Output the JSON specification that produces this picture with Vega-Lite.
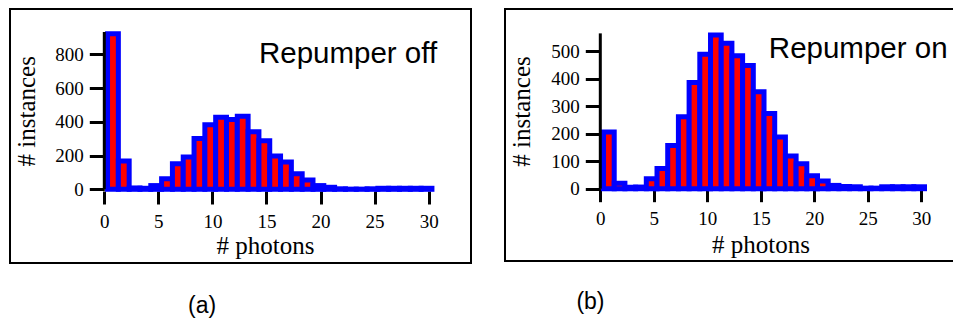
{
  "$schema": "https://vega.github.io/schema/vega-lite/v6.json",
  "padding": {"left": 9, "top": 8, "right": 0, "bottom": 0},
  "spacing": 32,
  "background": "white",
  "config": {
    "view": {"stroke": "black", "strokeWidth": 2},
    "axis": {
      "grid": false,
      "domain": false,
      "labelFont": "Liberation Serif",
      "labelFontSize": 19,
      "labelColor": "black",
      "titleFont": "Liberation Serif",
      "titleFontSize": 25,
      "titleFontWeight": "normal",
      "titleColor": "black",
      "tickColor": "black",
      "tickWidth": 3
    }
  },
  "datasets": {
    "off": [
      {"bin_start": 0.3, "bin_end": 1.3, "count": 922},
      {"bin_start": 1.3, "bin_end": 2.3, "count": 168},
      {"bin_start": 2.3, "bin_end": 3.3, "count": 8},
      {"bin_start": 3.3, "bin_end": 4.3, "count": 6},
      {"bin_start": 4.3, "bin_end": 5.3, "count": 22},
      {"bin_start": 5.3, "bin_end": 6.3, "count": 63},
      {"bin_start": 6.3, "bin_end": 7.3, "count": 152},
      {"bin_start": 7.3, "bin_end": 8.3, "count": 192},
      {"bin_start": 8.3, "bin_end": 9.3, "count": 301},
      {"bin_start": 9.3, "bin_end": 10.3, "count": 383},
      {"bin_start": 10.3, "bin_end": 11.3, "count": 427},
      {"bin_start": 11.3, "bin_end": 12.3, "count": 413},
      {"bin_start": 12.3, "bin_end": 13.3, "count": 433},
      {"bin_start": 13.3, "bin_end": 14.3, "count": 341},
      {"bin_start": 14.3, "bin_end": 15.3, "count": 288},
      {"bin_start": 15.3, "bin_end": 16.3, "count": 198},
      {"bin_start": 16.3, "bin_end": 17.3, "count": 162},
      {"bin_start": 17.3, "bin_end": 18.3, "count": 92},
      {"bin_start": 18.3, "bin_end": 19.3, "count": 55},
      {"bin_start": 19.3, "bin_end": 20.3, "count": 22},
      {"bin_start": 20.3, "bin_end": 21.3, "count": 12},
      {"bin_start": 21.3, "bin_end": 22.3, "count": 3},
      {"bin_start": 22.3, "bin_end": 23.3, "count": 1},
      {"bin_start": 23.3, "bin_end": 24.3, "count": 1},
      {"bin_start": 24.3, "bin_end": 25.3, "count": 3},
      {"bin_start": 25.3, "bin_end": 26.3, "count": 6},
      {"bin_start": 26.3, "bin_end": 27.3, "count": 6},
      {"bin_start": 27.3, "bin_end": 28.3, "count": 6},
      {"bin_start": 28.3, "bin_end": 29.3, "count": 6},
      {"bin_start": 29.3, "bin_end": 30.3, "count": 6}
    ],
    "on": [
      {"bin_start": 0.3, "bin_end": 1.3, "count": 206},
      {"bin_start": 1.3, "bin_end": 2.3, "count": 20},
      {"bin_start": 2.3, "bin_end": 3.3, "count": 5},
      {"bin_start": 3.3, "bin_end": 4.3, "count": 6},
      {"bin_start": 4.3, "bin_end": 5.3, "count": 36},
      {"bin_start": 5.3, "bin_end": 6.3, "count": 73},
      {"bin_start": 6.3, "bin_end": 7.3, "count": 157},
      {"bin_start": 7.3, "bin_end": 8.3, "count": 261},
      {"bin_start": 8.3, "bin_end": 9.3, "count": 386},
      {"bin_start": 9.3, "bin_end": 10.3, "count": 488},
      {"bin_start": 10.3, "bin_end": 11.3, "count": 558},
      {"bin_start": 11.3, "bin_end": 12.3, "count": 528},
      {"bin_start": 12.3, "bin_end": 13.3, "count": 483},
      {"bin_start": 13.3, "bin_end": 14.3, "count": 447},
      {"bin_start": 14.3, "bin_end": 15.3, "count": 352},
      {"bin_start": 15.3, "bin_end": 16.3, "count": 273},
      {"bin_start": 16.3, "bin_end": 17.3, "count": 188},
      {"bin_start": 17.3, "bin_end": 18.3, "count": 119},
      {"bin_start": 18.3, "bin_end": 19.3, "count": 91},
      {"bin_start": 19.3, "bin_end": 20.3, "count": 47},
      {"bin_start": 20.3, "bin_end": 21.3, "count": 28},
      {"bin_start": 21.3, "bin_end": 22.3, "count": 12},
      {"bin_start": 22.3, "bin_end": 23.3, "count": 8},
      {"bin_start": 23.3, "bin_end": 24.3, "count": 7},
      {"bin_start": 24.3, "bin_end": 25.3, "count": 2},
      {"bin_start": 25.3, "bin_end": 26.3, "count": 2},
      {"bin_start": 26.3, "bin_end": 27.3, "count": 7},
      {"bin_start": 27.3, "bin_end": 28.3, "count": 7},
      {"bin_start": 28.3, "bin_end": 29.3, "count": 7},
      {"bin_start": 29.3, "bin_end": 30.3, "count": 7}
    ]
  },
  "hconcat": [
    {
      "width": 461,
      "height": 254,
      "layer": [
        {
          "data": {"name": "off"},
          "mark": {"type": "bar", "fill": "#ff0000", "stroke": "#0000ff", "strokeWidth": 5},
          "encoding": {
            "x": {
              "field": "bin_start", "type": "quantitative",
              "scale": {"domain": [-8.721, 33.913], "nice": false, "zero": false},
              "axis": {"title": "# photons", "values": [0, 5, 10, 15, 20, 25, 30], "offset": -72, "tickSize": 13, "labelPadding": 8,
                       "titleX": 255, "titleY": 62, "titleBaseline": "alphabetic", "titleAlign": "center"}
            },
            "x2": {"field": "bin_end"},
            "y": {
              "field": "count", "type": "quantitative", "stack": null,
              "scale": {"domain": [-436.7, 1068.4], "nice": false, "zero": false},
              "axis": {"title": "# instances", "values": [0, 200, 400, 600, 800], "offset": -94.3, "tickSize": 15, "labelPadding": 6,
                       "titleX": -78, "titleY": 101.8, "titleBaseline": "middle", "titleAlign": "center", "titleAngle": -90}
            },
            "y2": {"datum": 0}
          }
        },
        {
          "data": {"values": [{"top": 932, "base": 0, "pos": 0}]},
          "mark": {"type": "rule", "color": "black", "strokeWidth": 3},
          "encoding": {
            "x": {"field": "pos", "type": "quantitative"},
            "y": {"field": "top", "type": "quantitative"},
            "y2": {"field": "base"}
          }
        },
        {
          "data": {"values": [{}]},
          "mark": {"type": "text", "text": "Repumper off", "font": "Liberation Sans", "fontSize": 29.5, "align": "left", "baseline": "alphabetic", "color": "black"},
          "encoding": {
            "x": {"datum": 14.3, "type": "quantitative"},
            "y": {"datum": 746.7, "type": "quantitative"}
          }
        },
        {
          "data": {"values": [{}]},
          "mark": {"type": "text", "text": "(a)", "font": "Liberation Sans", "fontSize": 23, "align": "center", "baseline": "alphabetic", "color": "black"},
          "encoding": {
            "x": {"datum": 9.04, "type": "quantitative"},
            "y": {"datum": -733, "type": "quantitative"}
          }
        }
      ]
    },
    {
      "width": 453,
      "height": 252,
      "layer": [
        {
          "data": {"name": "on"},
          "mark": {"type": "bar", "fill": "#ff0000", "stroke": "#0000ff", "strokeWidth": 5},
          "encoding": {
            "x": {
              "field": "bin_start", "type": "quantitative",
              "scale": {"domain": [-8.907, 33.43], "nice": false, "zero": false},
              "axis": {"title": "# photons", "values": [0, 5, 10, 15, 20, 25, 30], "offset": -72.3, "tickSize": 13, "labelPadding": 8,
                       "titleX": 255.5, "titleY": 63.5, "titleBaseline": "alphabetic", "titleAlign": "center"}
            },
            "x2": {"field": "bin_end"},
            "y": {
              "field": "count", "type": "quantitative", "stack": null,
              "scale": {"domain": [-262.5, 652.5], "nice": false, "zero": false},
              "axis": {"title": "# instances", "values": [0, 100, 200, 300, 400, 500], "offset": -95.3, "tickSize": 15, "labelPadding": 6,
                       "titleX": -78.6, "titleY": 102, "titleBaseline": "middle", "titleAlign": "center", "titleAngle": -90}
            },
            "y2": {"datum": 0}
          }
        },
        {
          "data": {"values": [{"top": 564, "base": 0, "pos": 0}]},
          "mark": {"type": "rule", "color": "black", "strokeWidth": 3},
          "encoding": {
            "x": {"field": "pos", "type": "quantitative"},
            "y": {"field": "top", "type": "quantitative"},
            "y2": {"field": "base"}
          }
        },
        {
          "data": {"values": [{}]},
          "mark": {"type": "text", "text": "Repumper on", "font": "Liberation Sans", "fontSize": 29.5, "align": "left", "baseline": "alphabetic", "color": "black"},
          "encoding": {
            "x": {"datum": 15.75, "type": "quantitative"},
            "y": {"datum": 473.5, "type": "quantitative"}
          }
        },
        {
          "data": {"values": [{}]},
          "mark": {"type": "text", "text": "(b)", "font": "Liberation Sans", "fontSize": 23, "align": "center", "baseline": "alphabetic", "color": "black"},
          "encoding": {
            "x": {"datum": -0.92, "type": "quantitative"},
            "y": {"datum": -436, "type": "quantitative"}
          }
        }
      ]
    }
  ]
}
